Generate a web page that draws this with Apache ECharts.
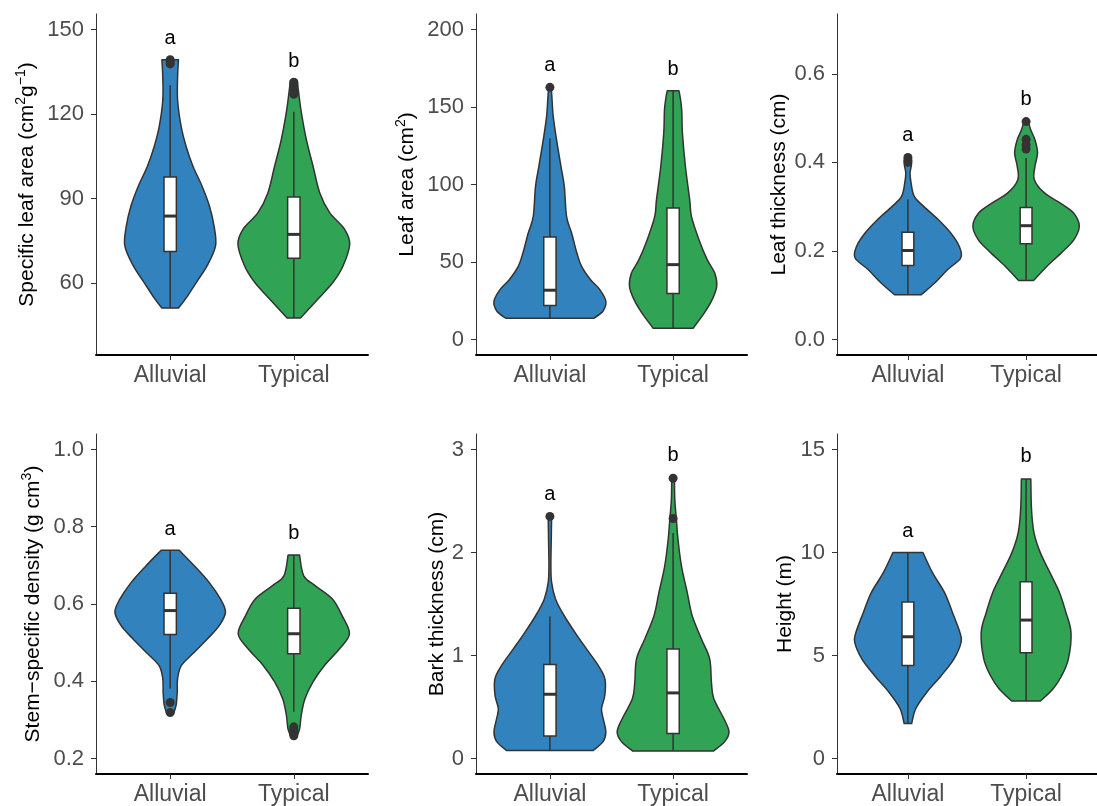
<!DOCTYPE html>
<html>
<head>
<meta charset="utf-8">
<script src="https://cdn.jsdelivr.net/npm/echarts@6/dist/echarts.min.js"></script>
<style>
html,body{margin:0;padding:0;background:#fff;}
#chart{width:1097px;height:806px;}
</style>
</head>
<body>
<div id="chart"></div>
<script>
// ---------------- DATA ----------------
const categories = ['Alluvial', 'Typical'];

// violin profiles: [value, half-width of violin in category units]
const slaViolinAlluvial = [[51.2,0.068],[54.4,0.124],[60.3,0.212],[66.1,0.298],[73.2,0.367],[80.2,0.355],[87.3,0.318],[94.4,0.258],[101.4,0.185],[108.5,0.129],[115.5,0.089],[124.9,0.06],[133.2,0.06],[139.3,0.067]];
const slaViolinTypical = [[47.6,0.054],[54.4,0.196],[60.3,0.317],[66.1,0.398],[73.8,0.452],[79.1,0.411],[85.0,0.29],[92.0,0.21],[101.4,0.156],[110.8,0.102],[120.2,0.062],[127.3,0.04],[132.0,0.027]];
const laViolinAlluvial = [[13.7,0.357],[18.2,0.43],[24.7,0.454],[32.2,0.405],[38.6,0.33],[47.2,0.257],[55.8,0.219],[68.7,0.176],[79.4,0.135],[98.7,0.117],[111.6,0.09],[128.8,0.054],[143.8,0.027],[156.6,0.016],[162.7,0.01]];
const laViolinTypical = [[7.3,0.162],[17.2,0.254],[25.7,0.317],[34.3,0.354],[42.9,0.338],[51.5,0.277],[64.4,0.21],[79.4,0.149],[90.1,0.135],[111.6,0.1],[133.0,0.076],[148.0,0.07],[156.6,0.057],[160.5,0.047]];
const ltViolinAlluvial = [[0.101,0.113],[0.128,0.229],[0.158,0.337],[0.184,0.447],[0.21,0.435],[0.24,0.364],[0.271,0.256],[0.30,0.135],[0.323,0.054],[0.353,0.027],[0.376,0.018],[0.395,0.03],[0.413,0.02]];
const ltViolinTypical = [[0.133,0.062],[0.165,0.175],[0.195,0.296],[0.225,0.404],[0.256,0.45],[0.286,0.40],[0.308,0.29],[0.331,0.155],[0.361,0.07],[0.391,0.075],[0.421,0.097],[0.451,0.075],[0.474,0.038],[0.492,0.02]];
const ssdViolinAlluvial = [[0.316,0.027],[0.338,0.048],[0.372,0.057],[0.407,0.06],[0.441,0.091],[0.475,0.195],[0.51,0.302],[0.544,0.397],[0.579,0.447],[0.613,0.406],[0.656,0.315],[0.699,0.195],[0.739,0.073]];
const ssdViolinTypical = [[0.259,0.027],[0.278,0.048],[0.312,0.06],[0.355,0.09],[0.398,0.154],[0.441,0.248],[0.484,0.37],[0.523,0.45],[0.57,0.39],[0.613,0.312],[0.647,0.175],[0.673,0.08],[0.727,0.046]];
const btViolinAlluvial = [[0.077,0.351],[0.164,0.432],[0.26,0.454],[0.389,0.432],[0.486,0.419],[0.614,0.446],[0.775,0.446],[0.904,0.392],[1.064,0.297],[1.225,0.203],[1.386,0.116],[1.547,0.046],[1.707,0.014],[1.868,0.008],[2.125,0.011],[2.35,0.014]];
const btViolinTypical = [[0.074,0.33],[0.164,0.419],[0.26,0.454],[0.389,0.412],[0.582,0.33],[0.743,0.311],[0.968,0.297],[1.161,0.23],[1.386,0.155],[1.611,0.115],[1.868,0.068],[2.125,0.04],[2.318,0.027],[2.511,0.014],[2.72,0.011]];
const htViolinAlluvial = [[1.70,0.032],[2.43,0.067],[3.23,0.162],[4.03,0.283],[4.84,0.39],[5.64,0.45],[6.12,0.44],[7.09,0.377],[8.05,0.31],[9.02,0.208],[10.0,0.127]];
const htViolinTypical = [[2.79,0.121],[3.39,0.229],[4.03,0.302],[4.84,0.358],[6.12,0.38],[7.09,0.337],[8.05,0.283],[9.02,0.202],[9.98,0.121],[10.95,0.067],[12.07,0.046],[13.57,0.04]];

// box stats per category: [lower whisker, Q1, median, Q3, upper whisker]
const slaBox = [[51.2,71.2,83.8,97.7,130.2],[47.6,68.8,77.3,90.6,120.8]];
const laBox  = [[13.7,21.9,31.8,66.1,129.8],[7.3,29.6,48.3,84.8,160.5]];
const ltBox  = [[0.101,0.167,0.201,0.242,0.316],[0.133,0.216,0.257,0.298,0.41]];
const ssdBox = [[0.381,0.521,0.583,0.628,0.739],[0.321,0.471,0.523,0.589,0.727]];
const btBox  = [[0.077,0.219,0.624,0.913,1.379],[0.074,0.244,0.637,1.064,2.19]];
const htBox  = [[1.70,4.52,5.91,7.6,10.0],[2.79,5.13,6.72,8.58,13.57]];

// outliers: [category index, value]
const slaOutliers = [[0,139.3],[0,138.5],[0,137.8],[1,131.3],[1,130.3],[1,128.2],[1,127.0]];
const laOutliers  = [[0,162.7]];
const ltOutliers  = [[0,0.411],[0,0.405],[0,0.40],[1,0.492],[1,0.452],[1,0.44],[1,0.43]];
const ssdOutliers = [[0,0.345],[0,0.319],[1,0.282],[1,0.276],[1,0.27],[1,0.264],[1,0.259]];
const btOutliers  = [[0,2.35],[1,2.72],[1,2.33]];
const htOutliers  = [];

// significance letters: [letter, value]
const slaLetters = [['a',146.8],['b',138.8]];
const laLetters  = [['a',177.0],['b',174.2]];
const ltLetters  = [['a',0.46],['b',0.541]];
const ssdLetters = [['a',0.794],['b',0.783]];
const btLetters  = [['a',2.56],['b',2.94]];
const htLetters  = [['a',11.03],['b',14.65]];

// y ticks
const slaTicks = [60,90,120,150];
const laTicks  = [0,50,100,150,200];
const ltTicks  = [0,0.2,0.4,0.6];
const ssdTicks = [0.2,0.4,0.6,0.8,1.0];
const btTicks  = [0,1,2,3];
const htTicks  = [0,5,10,15];

// axis titles (rich text for superscripts)
const titles = [
  '{n|Specific leaf area (cm}{sup|2}{n|g}{sup|\u22121}{n|)}',
  '{n|Leaf area (cm}{sup|2}{n|)}',
  '{n|Leaf thickness (cm)}',
  '{n|Stem\u2212specific density (g cm}{sup|3}{n|)}',
  '{n|Bark thickness (cm)}',
  '{n|Height (m)}'
];

// ---------------- LAYOUT / STYLE ----------------
const FONT = '"Liberation Sans", Arial, Helvetica, sans-serif';
const fillColors = ['#3182BD', '#31A354'];
const panels = [
  {violins:[slaViolinAlluvial, slaViolinTypical], box:slaBox, outliers:slaOutliers, letters:slaLetters, ticks:slaTicks, dec:0},
  {violins:[laViolinAlluvial, laViolinTypical], box:laBox, outliers:laOutliers, letters:laLetters, ticks:laTicks, dec:0},
  {violins:[ltViolinAlluvial, ltViolinTypical], box:ltBox, outliers:ltOutliers, letters:ltLetters, ticks:ltTicks, dec:1},
  {violins:[ssdViolinAlluvial, ssdViolinTypical], box:ssdBox, outliers:ssdOutliers, letters:ssdLetters, ticks:ssdTicks, dec:1},
  {violins:[btViolinAlluvial, btViolinTypical], box:btBox, outliers:btOutliers, letters:btLetters, ticks:btTicks, dec:0},
  {violins:[htViolinAlluvial, htViolinTypical], box:htBox, outliers:htOutliers, letters:htLetters, ticks:htTicks, dec:0}
];
const layout = [
  {left:96,  top:14,  width:272, height:341, ymin:34.5,  ymax:155.5, gap:58},
  {left:476, top:14,  width:271, height:341, ymin:-10,   ymax:210,   gap:58},
  {left:837, top:14,  width:272, height:341, ymin:-0.035,ymax:0.735, gap:47},
  {left:96,  top:434, width:272, height:342, ymin:0.16,  ymax:1.04,  gap:52},
  {left:476, top:434, width:271, height:342, ymin:-0.15, ymax:3.15,  gap:28},
  {left:837, top:434, width:272, height:342, ymin:-0.75, ymax:15.75, gap:41}
];

// Catmull-Rom spline through pixel points -> SVG cubic commands (rendering only)
function splineCmds(pts) {
  let d = '';
  for (let i = 0; i < pts.length - 1; i++) {
    const p0 = pts[Math.max(0, i - 1)], p1 = pts[i], p2 = pts[i + 1], p3 = pts[Math.min(pts.length - 1, i + 2)];
    const c1 = [p1[0] + (p2[0] - p0[0]) / 6, p1[1] + (p2[1] - p0[1]) / 6];
    const c2 = [p2[0] - (p3[0] - p1[0]) / 6, p2[1] - (p3[1] - p1[1]) / 6];
    d += ' C' + c1[0].toFixed(2) + ',' + c1[1].toFixed(2) + ' ' + c2[0].toFixed(2) + ',' + c2[1].toFixed(2) + ' ' + p2[0].toFixed(2) + ',' + p2[1].toFixed(2);
  }
  return d;
}

const grids = [], xAxes = [], yAxes = [], series = [];
panels.forEach((p, i) => {
  const L = layout[i];
  grids.push({left:L.left, top:L.top, width:L.width, height:L.height, containLabel:false});
  xAxes.push({
    gridIndex:i, type:'value', min:0.4, max:2.6,
    axisLine:{show:true, onZero:false, lineStyle:{color:'#000', width:2}},
    axisTick:{show:true, customValues:[1,2], length:5, lineStyle:{color:'#333', width:1}},
    axisLabel:{show:true, customValues:[1,2], formatter:v => categories[Math.round(v)-1],
      fontSize:23, color:'#4D4D4D', fontFamily:FONT, margin:9},
    splitLine:{show:false}
  });
  yAxes.push({
    gridIndex:i, type:'value', min:L.ymin, max:L.ymax,
    axisLine:{show:true, onZero:false, lineStyle:{color:'#333', width:1}},
    axisTick:{show:true, customValues:p.ticks, length:5, lineStyle:{color:'#333', width:1}},
    axisLabel:{show:true, customValues:p.ticks, formatter:v => Number(v).toFixed(p.dec),
      fontSize:22, color:'#4D4D4D', fontFamily:FONT, margin:12},
    splitLine:{show:false},
    name:titles[i], nameLocation:'middle', nameGap:L.gap,
    nameTextStyle:{fontSize:21, color:'#000', fontFamily:FONT,
      rich:{
        n:{fontSize:21, color:'#000', fontFamily:FONT, lineHeight:24, verticalAlign:'bottom'},
        sup:{fontSize:14, color:'#000', fontFamily:FONT, lineHeight:16, padding:[0,0,12,0], verticalAlign:'top'}
      }}
  });

  // violins
  series.push({
    type:'custom', xAxisIndex:i, yAxisIndex:i, z:1, silent:true,
    data: categories.map((c, k) => [k+1, p.box[k][2]]),
    renderItem:(params, api) => {
      const k = params.dataIndex;
      const prof = p.violins[k];
      const cx = k + 1;
      const right = prof.map(([v, w]) => api.coord([cx + w, v]));
      const left = prof.slice().reverse().map(([v, w]) => api.coord([cx - w, v]));
      let d = 'M' + right[0][0].toFixed(2) + ',' + right[0][1].toFixed(2) + splineCmds(right);
      d += ' L' + left[0][0].toFixed(2) + ',' + left[0][1].toFixed(2) + splineCmds(left) + ' Z';
      return {type:'path', shape:{pathData:d},
        style:{fill:fillColors[k], stroke:'#333', lineWidth:1.5, lineJoin:'round'}};
    }
  });
  // boxplots
  series.push({
    type:'custom', xAxisIndex:i, yAxisIndex:i, z:2, silent:true,
    data: categories.map((c, k) => [k+1, p.box[k][2]]),
    renderItem:(params, api) => {
      const k = params.dataIndex;
      const [lo, q1, med, q3, hi] = p.box[k];
      const cx = k + 1, hw = 0.05;
      const pLo = api.coord([cx, lo]), pHi = api.coord([cx, hi]);
      const a = api.coord([cx - hw, q3]), b = api.coord([cx + hw, q1]);
      const m1 = api.coord([cx - hw, med]), m2 = api.coord([cx + hw, med]);
      return {type:'group', children:[
        {type:'line', shape:{x1:pLo[0], y1:pLo[1], x2:pHi[0], y2:pHi[1]}, style:{stroke:'#333', lineWidth:1.5}},
        {type:'rect', shape:{x:a[0], y:a[1], width:b[0]-a[0], height:b[1]-a[1]}, style:{fill:'#fff', stroke:'#333', lineWidth:1.5}},
        {type:'line', shape:{x1:m1[0], y1:m1[1], x2:m2[0], y2:m2[1]}, style:{stroke:'#333', lineWidth:3}}
      ]};
    }
  });
  // outliers
  series.push({
    type:'scatter', xAxisIndex:i, yAxisIndex:i, z:3, silent:true,
    symbol:'circle', symbolSize:9, itemStyle:{color:'#333', opacity:1},
    data: p.outliers.map(([k, v]) => [k+1, v])
  });
  // letters
  series.push({
    type:'custom', xAxisIndex:i, yAxisIndex:i, z:4, silent:true,
    data: p.letters.map(([t, v], k) => [k+1, v]),
    renderItem:(params, api) => {
      const k = params.dataIndex;
      const pt = api.coord([k+1, p.letters[k][1]]);
      return {type:'text', x:pt[0], y:pt[1],
        style:{text:p.letters[k][0], fill:'#000', fontSize:20, fontFamily:FONT, align:'center', verticalAlign:'middle'}};
    }
  });
});

const chart = echarts.init(document.getElementById('chart'), null, {renderer:'canvas'});
chart.setOption({
  backgroundColor:'#fff',
  animation:false,
  grid:grids, xAxis:xAxes, yAxis:yAxes, series:series
});
</script>
</body>
</html>
